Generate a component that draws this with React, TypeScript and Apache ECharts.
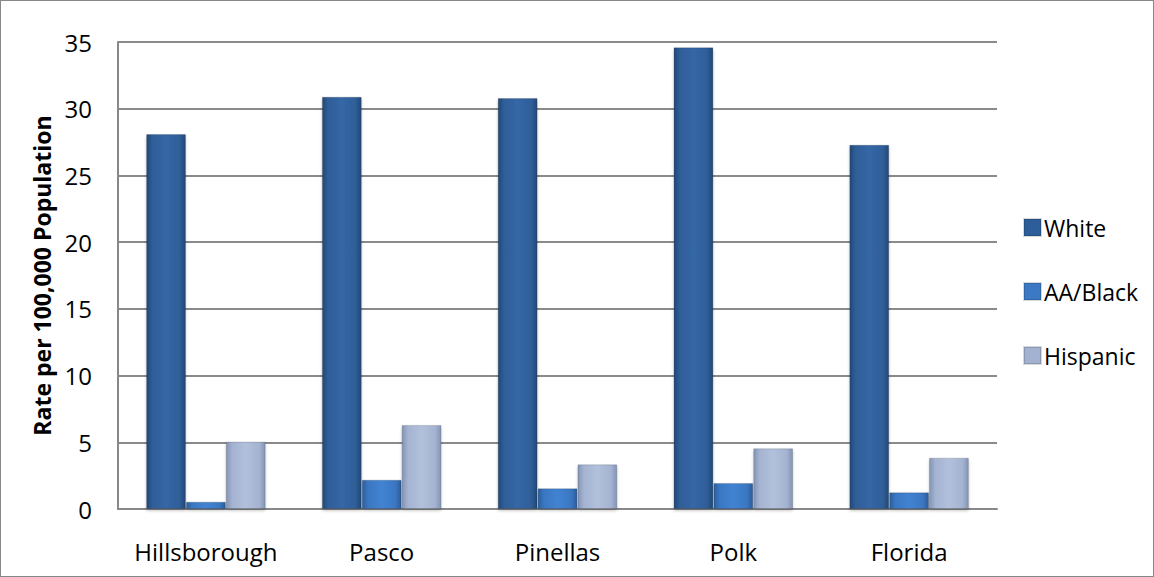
import React, { useEffect, useRef } from "react";
import * as echarts from "echarts";

const categories = ["Hillsborough", "Pasco", "Pinellas", "Polk", "Florida"];
const whiteValues = [28.1, 30.9, 30.8, 34.6, 27.3];
const blackValues = [0.55, 2.2, 1.55, 1.95, 1.25];
const hispanicValues = [5.05, 6.3, 3.35, 4.55, 3.85];
const seriesNames = ["White", "AA/Black", "Hispanic"];

function grad(light: string, mid: string, dark: string) {
  return new echarts.graphic.LinearGradient(0, 0, 1, 0, [
    { offset: 0, color: dark },
    { offset: 0.15, color: mid },
    { offset: 0.5, color: light },
    { offset: 0.85, color: mid },
    { offset: 1, color: dark },
  ]);
}

export default function App() {
  const ref = useRef<HTMLDivElement>(null);
  useEffect(() => {
    if (!ref.current) return;
    const chart = echarts.init(ref.current, undefined, { renderer: "svg" });
    const font = "'Open Sans', 'Liberation Sans', sans-serif";
    const colors = [
      grad("#3567A6", "#2F5E98", "#234877"),
      grad("#4283D2", "#3A77C2", "#2C5E9C"),
      grad("#B2C0DB", "#A3B3D1", "#8494B4"),
    ];
    const solid = ["#2E5E99", "#3B79C5", "#A2B2D0"];
    const data = [whiteValues, blackValues, hispanicValues];
    chart.setOption({
      animation: false,
      textStyle: { fontFamily: font },
      grid: { left: 117, right: 156, top: 41, bottom: 67 },
      legend: {
        orient: "vertical",
        left: 1017,
        top: 210,
        itemGap: 41,
        itemWidth: 17,
        itemHeight: 17,
        icon: "rect",
        textStyle: { fontSize: 23, color: "#000", fontFamily: font, padding: [0, 0, 0, -2] },
        data: seriesNames.map((n, i) => ({ name: n, itemStyle: { color: solid[i] } })),
      },
      xAxis: {
        type: "category",
        data: categories,
        axisLine: { lineStyle: { color: "#888", width: 2 } },
        axisTick: { show: false },
        axisLabel: { fontSize: 24, color: "#000", margin: 30, interval: 0, fontFamily: font },
      },
      yAxis: {
        type: "value",
        min: 0,
        max: 35,
        interval: 5,
        name: "Rate per 100,000 Population",
        nameLocation: "middle",
        nameGap: 60,
        nameTextStyle: { fontSize: 23, fontWeight: "bold", color: "#000", fontFamily: font },
        axisLine: { show: true, lineStyle: { color: "#888", width: 2 } },
        axisTick: { show: false },
        splitLine: { lineStyle: { color: "#8a8a8a", width: 2 } },
        axisLabel: { fontSize: 24, color: "#000", margin: 26, fontFamily: font },
      },
      series: seriesNames.map((n, i) => ({
        name: n,
        type: "bar",
        data: data[i],
        barGap: "0%",
        barCategoryGap: "32%",
        itemStyle: {
          color: colors[i],
          borderColor: "rgba(0,0,0,0.15)",
          borderWidth: 1,
          shadowColor: "rgba(0,0,0,0.25)",
          shadowBlur: 3,
          shadowOffsetY: 2,
        },
      })),
    });
    return () => chart.dispose();
  }, []);
  return (
    <div
      ref={ref}
      style={{
        position: "absolute",
        left: 0,
        top: 0,
        width: 1154,
        height: 577,
        boxSizing: "border-box",
        border: "1px solid #888",
        background: "#fff",
      }}
    />
  );
}
